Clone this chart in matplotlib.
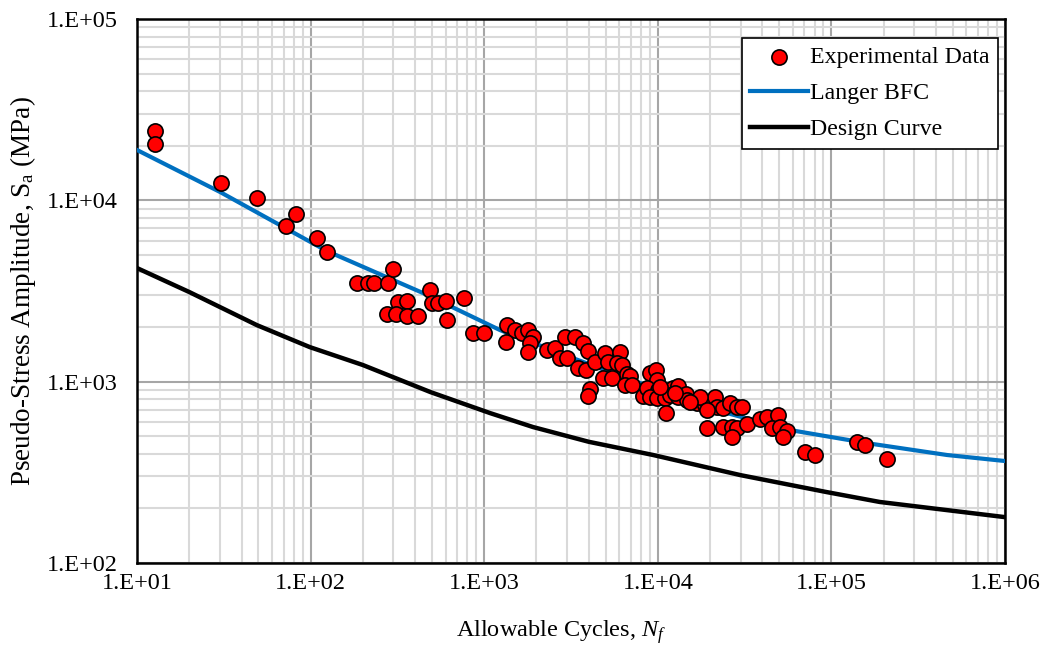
import numpy as np
import matplotlib
matplotlib.use("Agg")
import matplotlib.pyplot as plt
from matplotlib.ticker import LogLocator, FuncFormatter, NullFormatter

plt.rcParams['font.family'] = ['Liberation Serif', 'DejaVu Serif']
plt.rcParams['mathtext.fontset'] = 'custom'
plt.rcParams['mathtext.rm'] = 'Liberation Serif'
plt.rcParams['mathtext.it'] = 'Liberation Serif:italic'

exp_n = [12.7, 12.7, 30.5, 49.1, 72.2, 82.4, 109, 124, 185, 214, 232, 279, 298, 487,
         319, 359, 500, 542, 603, 765, 275, 310, 359, 416, 611, 862, 997,
         1353, 1504, 1335, 1651, 1788, 1910, 1835, 1788, 2300, 2557, 2733, 3000,
         2920, 3334, 3709, 3962, 3470, 3858, 4347, 4966, 6058, 5166, 5821, 6220,
         4836, 5446, 6648, 6918, 6474, 7104, 4068, 3962, 8217, 9018, 9763, 9894,
         8667, 10030, 11000, 12230, 13070, 9018, 9894, 11000, 11760, 13070, 14530,
         14730, 16820, 18700, 21360, 21930, 23740, 26050, 28600, 30550, 11150,
         19200, 23740, 26760, 28600, 26760, 32640, 38800, 42560, 49250, 45480,
         50560, 55490, 52630, 70450, 80450, 140400, 156100, 209100,
         17500, 15330, 19200, 10300, 12570]
exp_s = [24100, 20400, 12500, 10300, 7220, 8400, 6200, 5180, 3500, 3500, 3500, 3500, 4180, 3200,
         2750, 2780, 2710, 2710, 2780, 2890, 2360, 2360, 2300, 2300, 2190, 1850, 1850,
         2050, 1925, 1650, 1850, 1925, 1760, 1630, 1460, 1490, 1530, 1350, 1350,
         1760, 1760, 1630, 1475, 1190, 1160, 1280, 1440, 1460, 1280, 1270, 1235,
         1050, 1050, 1100, 1075, 958, 958, 910, 833, 833, 1115, 1160, 1020,
         922, 900, 900, 922, 946, 822, 812, 812, 844, 822, 854,
         792, 762, 743, 822, 724, 715, 762, 724, 724, 671,
         555, 562, 562, 555, 495, 584, 622, 638, 654, 555,
         562, 534, 495, 409, 394, 464, 447, 374,
         822, 772, 697, 934, 865]

# Langer best-fit curve
bfc_n = [10, 30.1, 124, 444, 1233, 3120, 7590, 25030, 57730, 160400, 463400, 1e6]
bfc_s = [18940, 11110, 5253, 3081, 1925, 1367, 995, 671, 541, 458, 394, 365]

# Design curve
design_n = [10, 20, 49, 99, 200, 490, 1080, 1910, 4000, 9400, 30000, 94000, 190000, 1e6]
design_s = [4230, 3120, 2050, 1550, 1235, 876, 671, 562, 466, 394, 305, 246, 217, 179]

fig = plt.figure(figsize=(10.51, 6.48), dpi=100)
ax = fig.add_axes([0.1304, 0.1312, 0.8258, 0.8395])

ax.plot(bfc_n, bfc_s, color='#0070C0', lw=3.0, label='Langer BFC', zorder=3)
ax.plot(design_n, design_s, color='black', lw=3.2, label='Design Curve', zorder=3)
ax.scatter(exp_n, exp_s, s=120, c='#FF0000', edgecolors='black', linewidths=1.2,
           label='Experimental Data', zorder=4)

ax.set_xscale('log')
ax.set_yscale('log')
ax.set_xlim(10, 1e6)
ax.set_ylim(100, 1e5)

fmt = FuncFormatter(lambda v, p: "1.E+%02d" % int(round(np.log10(v))))
ax.xaxis.set_major_formatter(fmt)
ax.yaxis.set_major_formatter(fmt)
ax.xaxis.set_minor_locator(LogLocator(base=10, subs=np.arange(2, 10), numticks=20))
ax.yaxis.set_minor_locator(LogLocator(base=10, subs=np.arange(2, 10), numticks=20))
ax.xaxis.set_minor_formatter(NullFormatter())
ax.yaxis.set_minor_formatter(NullFormatter())

ax.grid(which='minor', color='#D9D9D9', lw=1.5, zorder=0)
ax.grid(which='major', color='#A6A6A6', lw=1.5, zorder=1)
ax.set_axisbelow(True)

ax.tick_params(axis='x', which='major', length=0, pad=7, labelsize=17.5)
ax.tick_params(axis='y', which='major', length=0, pad=14, labelsize=17.5)
ax.tick_params(which='minor', length=0)

for sp in ax.spines.values():
    sp.set_linewidth(1.8)
    sp.set_color('black')

ax.set_xlabel(r'Allowable Cycles, $N_f$', fontsize=17.5)
ax.xaxis.set_label_coords(0.489, -0.102)
ax.set_ylabel(r'Pseudo-Stress Amplitude, S$_\mathrm{a}$ (MPa)', fontsize=19.5, labelpad=6)

handles, labels = ax.get_legend_handles_labels()
order = [2, 0, 1]
leg = ax.legend([handles[i] for i in order], [labels[i] for i in order],
                loc='upper right', bbox_to_anchor=(0.992, 0.965), fontsize=17.2,
                frameon=True, fancybox=False, edgecolor='black', framealpha=1,
                handlelength=2.4, borderpad=0.35, labelspacing=0.6, handletextpad=0.1,
                borderaxespad=0)
leg.get_frame().set_linewidth(1.2)

fig.savefig('out.png', dpi=100)
